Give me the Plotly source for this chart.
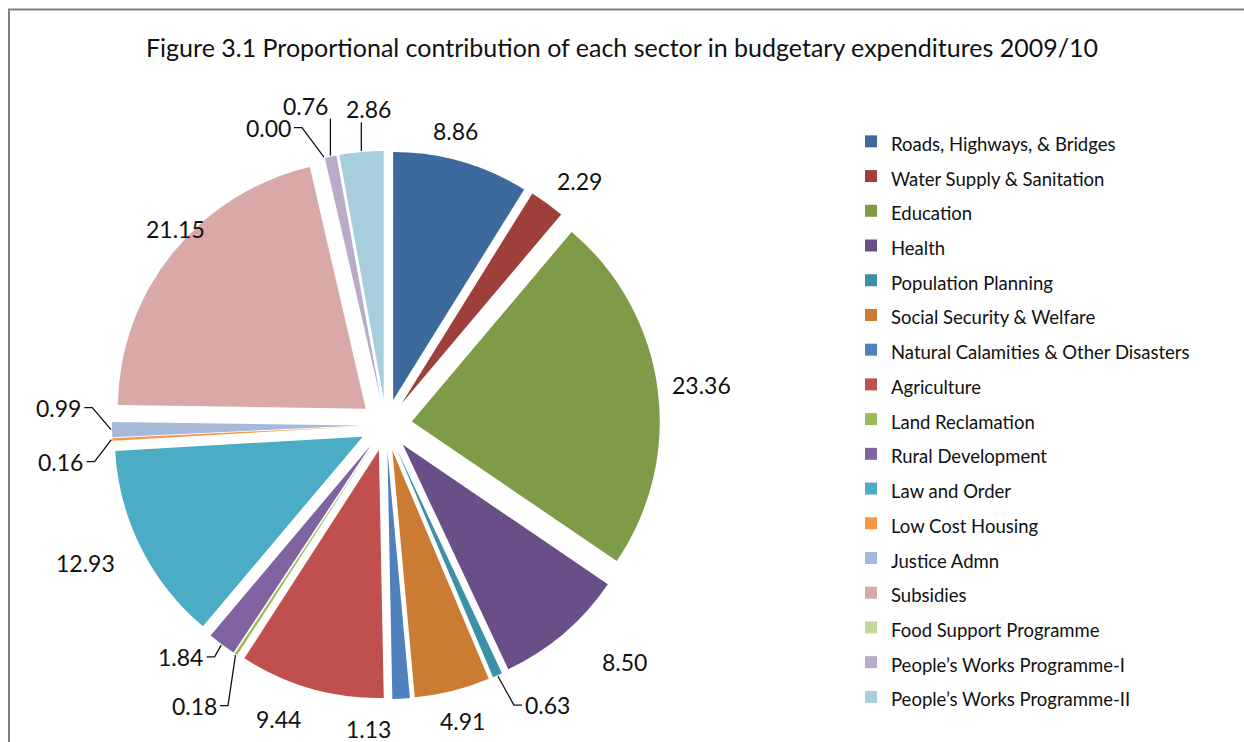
import math
import plotly.graph_objects as go

sectors = [
    "Roads, Highways, & Bridges",
    "Water Supply & Sanitation",
    "Education",
    "Health",
    "Population Planning",
    "Social Security & Welfare",
    "Natural Calamities & Other Disasters",
    "Agriculture",
    "Land Reclamation",
    "Rural Development",
    "Law and Order",
    "Low Cost Housing",
    "Justice Admn",
    "Subsidies",
    "Food Support Programme",
    "People's Works Programme-I",
    "People's Works Programme-II",
]
shares = [8.86, 2.29, 23.36, 8.50, 0.63, 4.91, 1.13, 9.44, 0.18, 1.84,
          12.93, 0.16, 0.99, 21.15, 0.00, 0.76, 2.86]
colors = ["#3D6A9C", "#9E3F3C", "#7E9B48", "#694F87", "#3B90A6", "#CC7B34",
          "#4F81BD", "#C0504D", "#9BBB59", "#8064A2", "#4BACC6", "#F79646",
          "#A7B9DA", "#D9A9A8", "#C3D69B", "#B9ABC9", "#A6CEDC"]

# label layout style: angular nudge (deg), radial nudge (px), leader line flag
label_dtheta = [-2.7, 2.4, 0.6, -4.7, -6, -0.4, 6.5, 4.2, 1.2, 4.7, 2, -3.4, 4, 4, -8.6, -2.5, 1.9]
label_dr = [0, 4, 1, 28, 19, 4, 7, 11, 33, 2, 14, 18, 19, -28, 19, 29, 18]
leader = [False, False, False, False, True, False, False, False, True, True,
          False, True, True, False, True, True, True]

W, H = 1244, 742
CX, CY = 386, 425          # pie centre in pixels
PULL = 0.105
BOX = 548                  # pie box size (px)
R = BOX / (2 + 2 * PULL)
RO = R * (1 + PULL)
LBL_SIZE = 23


def px(x):
    return x / W


def py(y):
    return 1 - y / H


legend_labels = ['<span style="font-size:18.5px">%s</span>' % s.replace("'", "\u2019") for s in sectors]

fig = go.Figure()
fig.add_trace(go.Pie(
    labels=legend_labels,
    values=shares,
    sort=False,
    direction="clockwise",
    rotation=0,
    pull=[PULL] * len(shares),
    marker=dict(colors=colors, line=dict(width=0)),
    textinfo="none",
    domain=dict(x=[px(CX - BOX / 2), px(CX + BOX / 2)],
                y=[py(CY + BOX / 2), py(CY - BOX / 2)]),
    hovertemplate="%{label}: %{value:.2f}<extra></extra>",
))

total = sum(shares)
cum = 0.0
annotations = []
shapes = []
for i, v in enumerate(shares):
    mid = (cum + v / 2) / total * 360.0
    cum += v
    txt = f"{v:.2f}"
    hw = (0.58 * LBL_SIZE * (len(txt) - 1) + 0.25 * LBL_SIZE) / 2
    hh = 10
    t = math.radians(mid)
    ext = abs(math.sin(t)) * hw + abs(math.cos(t)) * hh
    r = RO + 12 + ext + label_dr[i]
    ta = math.radians(mid + label_dtheta[i])
    lx = CX + r * math.sin(ta)
    ly = CY - r * math.cos(ta)
    annotations.append(dict(
        x=px(lx), y=py(ly), xref="paper", yref="paper", text=txt,
        showarrow=False, xanchor="center", yanchor="middle",
        font=dict(family="Lato", size=LBL_SIZE, color="#111111"),
    ))
    if leader[i]:
        sx = CX + (RO + 1) * math.sin(t)
        sy = CY - (RO + 1) * math.cos(t)
        if lx - hw - 4 <= sx <= lx + hw + 4:
            ey = ly + (hh + 3) * (1 if sy > ly else -1)
            path = f"M{px(sx)},{py(sy)} L{px(sx)},{py(ey)}"
        else:
            sgn = 1 if sx > lx else -1
            side = lx + sgn * (hw + 3)
            elbow = side + sgn * 8
            path = (f"M{px(sx)},{py(sy)} L{px(elbow)},{py(ly)} "
                    f"L{px(side)},{py(ly)}")
        shapes.append(dict(type="path", xref="paper", yref="paper", path=path,
                           line=dict(color="#111111", width=1.3)))

shapes.append(dict(type="rect", xref="paper", yref="paper",
                   x0=px(9), x1=1.02, y0=-0.02, y1=py(9.5),
                   line=dict(color="#808080", width=2)))

fig.update_layout(
    width=W, height=H,
    margin=dict(l=0, r=0, t=0, b=0),
    paper_bgcolor="white",
    title=dict(
        text="Figure 3.1 Proportional contribution of each sector in budgetary expenditures 2009/10",
        x=0.5, xanchor="center", y=py(48), yanchor="middle",
        font=dict(family="Lato", size=25, color="#111111"),
    ),
    showlegend=True,
    legend=dict(
        x=px(851), xanchor="left", y=py(119), yanchor="top",
        font=dict(family="Lato", size=24.4, color="#111111"),
        bgcolor="rgba(0,0,0,0)",
        traceorder="normal",
    ),
    annotations=annotations,
    shapes=shapes,
)

fig.write_html(
    "out.html",
    config={"displayModeBar": False},
    post_script="document.body.style.margin='0px';document.body.style.overflow='hidden';",
)
